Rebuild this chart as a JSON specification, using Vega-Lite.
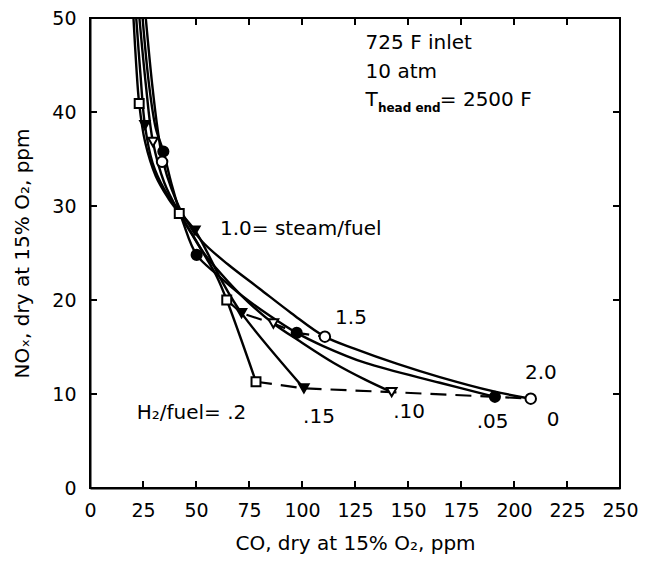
{
  "$schema": "https://vega.github.io/schema/vega-lite/v6.json",
  "width": 530,
  "height": 470,
  "autosize": "none",
  "padding": {"left": 90, "top": 18, "right": 25, "bottom": 74},
  "background": "white",
  "datasets": {
    "curves": [
      {"h2": ".2", "x": 20.5, "y": 50}, {"h2": ".2", "x": 21.8, "y": 45}, {"h2": ".2", "x": 23.2, "y": 40.9},
      {"h2": ".2", "x": 26, "y": 36.8}, {"h2": ".2", "x": 31, "y": 33.2}, {"h2": ".2", "x": 37, "y": 30.8},
      {"h2": ".2", "x": 42.1, "y": 29.2}, {"h2": ".2", "x": 48, "y": 27}, {"h2": ".2", "x": 55, "y": 24.4},
      {"h2": ".2", "x": 60, "y": 22.4}, {"h2": ".2", "x": 64.5, "y": 20}, {"h2": ".2", "x": 78.3, "y": 11.3},

      {"h2": ".15", "x": 21.8, "y": 50}, {"h2": ".15", "x": 23.8, "y": 44}, {"h2": ".15", "x": 25.9, "y": 38.6},
      {"h2": ".15", "x": 29.5, "y": 34.6}, {"h2": ".15", "x": 35, "y": 31.8}, {"h2": ".15", "x": 42, "y": 29.5},
      {"h2": ".15", "x": 49.5, "y": 27.4}, {"h2": ".15", "x": 55, "y": 25.2}, {"h2": ".15", "x": 62, "y": 22.1},
      {"h2": ".15", "x": 71.5, "y": 18.6}, {"h2": ".15", "x": 100.9, "y": 10.6},

      {"h2": ".10", "x": 23.3, "y": 50}, {"h2": ".10", "x": 26.3, "y": 43}, {"h2": ".10", "x": 29.7, "y": 36.8},
      {"h2": ".10", "x": 35, "y": 32.5}, {"h2": ".10", "x": 42, "y": 29.3}, {"h2": ".10", "x": 48, "y": 27.1},
      {"h2": ".10", "x": 54, "y": 24.9}, {"h2": ".10", "x": 65, "y": 22}, {"h2": ".10", "x": 75, "y": 19.7},
      {"h2": ".10", "x": 86.5, "y": 17.5}, {"h2": ".10", "x": 99, "y": 15.6}, {"h2": ".10", "x": 115, "y": 13.3},
      {"h2": ".10", "x": 130, "y": 11.5}, {"h2": ".10", "x": 142.3, "y": 10.2},

      {"h2": ".05", "x": 24.8, "y": 50}, {"h2": ".05", "x": 27.8, "y": 43}, {"h2": ".05", "x": 31, "y": 38.3},
      {"h2": ".05", "x": 34.6, "y": 35.8}, {"h2": ".05", "x": 38.5, "y": 32.3}, {"h2": ".05", "x": 44, "y": 28.2},
      {"h2": ".05", "x": 50.3, "y": 24.8}, {"h2": ".05", "x": 60, "y": 22.7}, {"h2": ".05", "x": 72, "y": 20.4},
      {"h2": ".05", "x": 85, "y": 18.3}, {"h2": ".05", "x": 97.5, "y": 16.5}, {"h2": ".05", "x": 110, "y": 15.1},
      {"h2": ".05", "x": 130, "y": 13.3}, {"h2": ".05", "x": 165, "y": 11.2}, {"h2": ".05", "x": 191, "y": 9.7},

      {"h2": "0", "x": 26.3, "y": 50}, {"h2": "0", "x": 29.3, "y": 43}, {"h2": "0", "x": 32, "y": 38},
      {"h2": "0", "x": 34.5, "y": 34.7}, {"h2": "0", "x": 38.5, "y": 31.8}, {"h2": "0", "x": 45, "y": 28.6},
      {"h2": "0", "x": 53, "y": 26.2}, {"h2": "0", "x": 65, "y": 23.8}, {"h2": "0", "x": 80, "y": 21.2},
      {"h2": "0", "x": 95, "y": 18.6}, {"h2": "0", "x": 110.8, "y": 16.1}, {"h2": "0", "x": 125, "y": 14.8},
      {"h2": "0", "x": 145, "y": 13.2}, {"h2": "0", "x": 165, "y": 11.8}, {"h2": "0", "x": 190, "y": 10.3},
      {"h2": "0", "x": 207.9, "y": 9.5}
    ],
    "markers": [
      {"h2": ".2", "steam": "low", "x": 23.2, "y": 40.9},
      {"h2": ".15", "steam": "low", "x": 25.9, "y": 38.6},
      {"h2": ".10", "steam": "low", "x": 29.7, "y": 36.8},
      {"h2": ".05", "steam": "low", "x": 34.6, "y": 35.8},
      {"h2": "0", "steam": "low", "x": 34, "y": 34.7},
      {"h2": ".2", "steam": "1.0", "x": 42.1, "y": 29.2},
      {"h2": ".15", "steam": "1.0", "x": 49.5, "y": 27.4},
      {"h2": ".05", "steam": "1.0", "x": 50.3, "y": 24.8},
      {"h2": ".2", "steam": "1.5", "x": 64.5, "y": 20},
      {"h2": ".15", "steam": "1.5", "x": 71.5, "y": 18.6},
      {"h2": ".10", "steam": "1.5", "x": 86.5, "y": 17.5},
      {"h2": ".05", "steam": "1.5", "x": 97.5, "y": 16.5},
      {"h2": "0", "steam": "1.5", "x": 110.8, "y": 16.1},
      {"h2": ".2", "steam": "2.0", "x": 78.3, "y": 11.3},
      {"h2": ".15", "steam": "2.0", "x": 100.9, "y": 10.6},
      {"h2": ".10", "steam": "2.0", "x": 142.3, "y": 10.2},
      {"h2": ".05", "steam": "2.0", "x": 191, "y": 9.7},
      {"h2": "0", "steam": "2.0", "x": 207.9, "y": 9.5}
    ],
    "labels": [
      {"text": "725 F inlet", "x": 130, "y": 47.3},
      {"text": "10 atm", "x": 130, "y": 44.3},
      {"text": "T", "x": 130, "y": 41.3},
      {"text": "= 2500 F", "x": 165, "y": 41.3},
      {"text": "1.0= steam/fuel", "x": 61.3, "y": 27.6},
      {"text": "1.5", "x": 115.6, "y": 18.05},
      {"text": "2.0", "x": 205.2, "y": 12.2},
      {"text": "H₂/fuel= .2", "x": 22, "y": 8.0},
      {"text": ".15", "x": 100.5, "y": 7.6},
      {"text": ".10", "x": 143, "y": 8.1},
      {"text": ".05", "x": 182.4, "y": 7.0},
      {"text": "0", "x": 215.4, "y": 7.2}
    ],
    "subscripts": [
      {"text": "head end", "x": 135.8, "y": 40.4}
    ],
    "xticks": [{"v": 25}, {"v": 50}, {"v": 75}, {"v": 100}, {"v": 125}, {"v": 150}, {"v": 175}, {"v": 200}, {"v": 225}],
    "yticks": [{"v": 10}, {"v": 20}, {"v": 30}, {"v": 40}]
  },
  "layer": [
    {
      "data": {"name": "curves"},
      "mark": {"type": "line", "interpolate": "catmull-rom", "stroke": "black", "strokeWidth": 2.4, "clip": true},
      "encoding": {
        "x": {"field": "x", "type": "quantitative", "scale": {"domain": [0, 250], "nice": false},
          "axis": {"orient": "bottom", "values": [0, 25, 50, 75, 100, 125, 150, 175, 200, 225, 250],
            "title": "CO, dry at 15% O₂, ppm", "ticks": false, "grid": false,
            "labelPadding": 13, "labelOverlap": false, "labelFlush": false, "titlePadding": 13}},
        "y": {"field": "y", "type": "quantitative", "scale": {"domain": [0, 50], "nice": false},
          "axis": {"orient": "left", "values": [0, 10, 20, 30, 40, 50],
            "title": "NOₓ, dry at 15% O₂, ppm", "ticks": false, "grid": false,
            "labelPadding": 14, "labelOverlap": false, "labelFlush": false, "titlePadding": 19}},
        "detail": {"field": "h2"},
        "order": {"field": "x", "type": "quantitative"}
      }
    },
    {
      "data": {"name": "xticks"},
      "mark": {"type": "rule", "stroke": "black", "strokeWidth": 2},
      "encoding": {
        "x": {"field": "v", "type": "quantitative"},
        "y": {"datum": 0},
        "y2": {"datum": 0.75}
      }
    },
    {
      "data": {"name": "xticks"},
      "mark": {"type": "rule", "stroke": "black", "strokeWidth": 2},
      "encoding": {
        "x": {"field": "v", "type": "quantitative"},
        "y": {"datum": 50},
        "y2": {"datum": 49.25}
      }
    },
    {
      "data": {"name": "yticks"},
      "mark": {"type": "rule", "stroke": "black", "strokeWidth": 2},
      "encoding": {
        "y": {"field": "v", "type": "quantitative"},
        "x": {"datum": 0},
        "x2": {"datum": 3.3}
      }
    },
    {
      "data": {"name": "yticks"},
      "mark": {"type": "rule", "stroke": "black", "strokeWidth": 2},
      "encoding": {
        "y": {"field": "v", "type": "quantitative"},
        "x": {"datum": 250},
        "x2": {"datum": 246.7}
      }
    },
    {
      "data": {"name": "markers"},
      "transform": [{"filter": "datum.steam == '1.5' || datum.steam == '2.0'"}],
      "mark": {"type": "line", "stroke": "black", "strokeWidth": 2.2, "strokeDash": [16, 9]},
      "encoding": {
        "x": {"field": "x", "type": "quantitative"},
        "y": {"field": "y", "type": "quantitative"},
        "detail": {"field": "steam"},
        "order": {"field": "x", "type": "quantitative"}
      }
    },
    {
      "data": {"name": "markers"},
      "mark": {"type": "point", "filled": false, "stroke": "black", "strokeWidth": 2, "opacity": 1},
      "encoding": {
        "x": {"field": "x", "type": "quantitative"},
        "y": {"field": "y", "type": "quantitative"},
        "shape": {"field": "h2", "type": "nominal", "legend": null,
          "scale": {"domain": [".2", ".15", ".10", ".05", "0"], "range": ["square", "triangle-down", "triangle-down", "circle", "circle"]}},
        "fill": {"field": "h2", "type": "nominal", "legend": null,
          "scale": {"domain": [".2", ".15", ".10", ".05", "0"], "range": ["white", "black", "white", "black", "white"]}},
        "size": {"field": "h2", "type": "nominal", "legend": null,
          "scale": {"domain": [".2", ".15", ".10", ".05", "0"], "range": [80, 110, 90, 130, 90]}}
      }
    },
    {
      "data": {"name": "labels"},
      "mark": {"type": "text", "align": "left", "baseline": "middle", "font": "DejaVu Sans", "fontSize": 20, "color": "black"},
      "encoding": {
        "x": {"field": "x", "type": "quantitative"},
        "y": {"field": "y", "type": "quantitative"},
        "text": {"field": "text"}
      }
    },
    {
      "data": {"name": "subscripts"},
      "mark": {"type": "text", "align": "left", "baseline": "middle", "font": "DejaVu Sans", "fontSize": 12, "fontWeight": "bold", "color": "black"},
      "encoding": {
        "x": {"field": "x", "type": "quantitative"},
        "y": {"field": "y", "type": "quantitative"},
        "text": {"field": "text"}
      }
    }
  ],
  "config": {
    "view": {"stroke": "black", "strokeWidth": 2},
    "axis": {
      "domainColor": "black",
      "domainWidth": 2,
      "labelFont": "DejaVu Sans",
      "labelFontSize": 19,
      "labelColor": "black",
      "titleFont": "DejaVu Sans",
      "titleFontSize": 20,
      "titleFontWeight": "normal",
      "titleColor": "black"
    }
  }
}
